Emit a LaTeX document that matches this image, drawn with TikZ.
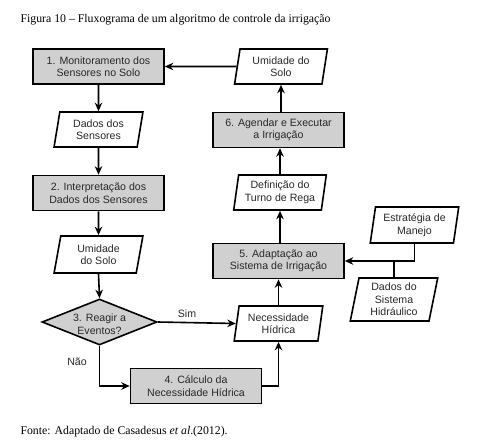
\documentclass[tikz,border=0pt]{standalone}
\usepackage{fontspec}
\setmainfont{Liberation Serif}
\setsansfont{Liberation Sans}
\usetikzlibrary{shapes.geometric,arrows.meta}
\definecolor{boxgray}{RGB}{208,208,208}
\definecolor{txt}{RGB}{40,40,40}
\begin{document}
\begin{tikzpicture}[x=1pt,y=-1pt,
  lbl/.style={font=\sffamily\fontsize{10.6}{12.5}\selectfont, text=txt, align=center},
  box/.style={lbl, draw, line width=1.6pt, fill=boxgray, minimum width=131pt, minimum height=35pt, inner sep=1pt},
  data/.style={lbl, trapezium, trapezium left angle=80, trapezium right angle=100, trapezium stretches=true, draw, line width=1.6pt, fill=white, minimum width=89pt, minimum height=35pt, inner sep=1pt},
  dec/.style={diamond, draw, line width=1.6pt, fill=boxgray, minimum width=115pt, minimum height=46pt, inner sep=0pt},
  arr/.style={-{Stealth[length=8.5pt,width=7.5pt]}, line width=1.6pt},
  ln/.style={line width=1.6pt},
  captext/.style={anchor=west, font=\fontsize{11.8}{13}\selectfont}]
\useasboundingbox (0,0) rectangle (480,445);
\node[captext] (title) at (17,20) {Figura 10 -- Fluxograma de um algoritmo de controle da irrigação};
\node[captext] (fonte) at (17,432) {Fonte: Adaptado de Casadesus \textit{et al}.(2012).};

\node[box] (b1) at (98.5,66.5) {1. Monitoramento dos\\Sensores no Solo};
\node[data] (p1) at (98.5,129.5) {Dados dos\\Sensores};
\node[box] (b2) at (98.5,193) {2. Interpretação dos\\Dados dos Sensores};
\node[data, minimum height=37pt] (p2) at (98.5,254.5) {Umidade\\do Solo};
\node[dec] (d) at (99.5,322) {};
\node[lbl] (dt) at (99.5,324) {3. Reagir a\\Eventos?};
\node[box] (b4) at (196,386) {4. Cálculo da\\Necessidade Hídrica};
\node[data] (p3) at (278.5,323.5) {Necessidade\\Hídrica};
\node[box] (b5) at (278.5,261) {5. Adaptação ao\\Sistema de Irrigação};
\node[data, minimum height=36pt] (p4) at (414.5,225) {Estratégia de\\Manejo};
\node[data, minimum height=43pt, minimum width=88pt] (p5) at (394,299.5) {Dados do\\Sistema\\Hidráulico};
\node[data, minimum width=93pt] (p6) at (280,192.5) {Definição do\\Turno de Rega};
\node[box] (b6) at (278.5,130) {6. Agendar e Executar\\a Irrigação};
\node[data, minimum width=93pt] (p7) at (281,66.5) {Umidade do\\Solo};

\node[lbl] (sim) at (187,314) {Sim};
\node[lbl] (nao) at (77,362) {Não};

\draw[arr] (b1.south) -- (p1.north);
\draw[arr] (p1.south) -- (b2.north);
\draw[arr] (b2.south) -- (p2.north);
\draw[arr] (p2.south) -- (d.north);
\draw[arr] (d.east) -- (p3.west);
\draw[arr] (d.south) |- (b4.west);
\draw[arr] (b4.east) -| (p3.south);
\draw[arr] (p3.north) -- (p3.north |- b5.south);
\draw[arr] (b5.north -| p6.south) -- (p6.south);
\draw[arr] (p6.north) -- (p6.north |- b6.south);
\draw[arr] (b6.north -| p7.south) -- (p7.south);
\draw[arr] (p7.west) -- (b1.east);
\draw[arr] (p4.south) |- (b5.east);
\draw[ln] (p5.north) -- (p5.north |- b5.east);
\end{tikzpicture}
\end{document}
